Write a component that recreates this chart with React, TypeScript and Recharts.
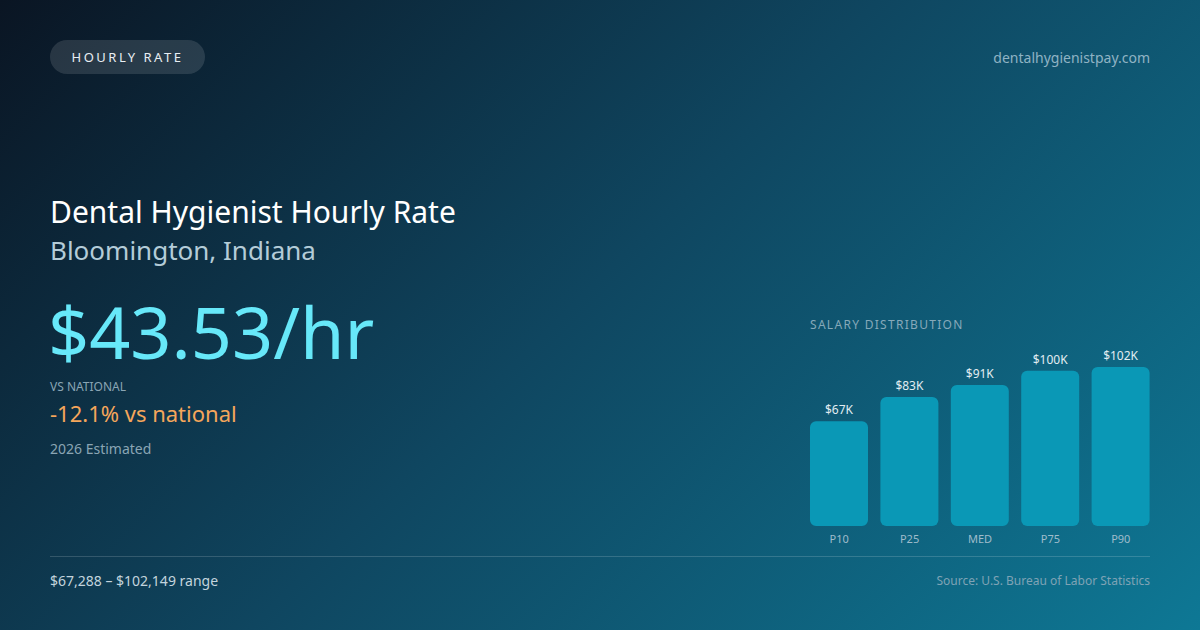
import React from 'react';
import { BarChart, Bar, XAxis, YAxis, LabelList } from 'recharts';

// salary percentiles (annual, USD)
const percentileLabels = ['P10', 'P25', 'MED', 'P75', 'P90'];
const salaryValues = [67288, 82900, 90600, 99800, 102149];

const chartData = percentileLabels.map((label, i) => ({
    label,
    salary: salaryValues[i],
}));

const formatK = (v: any) => `$${Math.round(Number(v) / 1000)}K`;

const FONT = '"Noto Sans", "Open Sans", sans-serif';

const App: React.FC = () => {
    return (
        <div
            style={{
                position: 'absolute',
                left: 0,
                top: 0,
                width: 1200,
                height: 630,
                overflow: 'hidden',
                fontFamily: FONT,
                background: 'linear-gradient(135deg, #0a1523 0%, #0f4660 48%, #0e7895 100%)',
            }}
        >
            {/* Pill */}
            <div
                style={{
                    position: 'absolute',
                    left: 50,
                    top: 40,
                    width: 155,
                    height: 34,
                    borderRadius: 17,
                    background: 'rgba(255,255,255,0.12)',
                    color: '#e8eef3',
                    fontSize: 13,
                    letterSpacing: 2.5,
                    display: 'flex',
                    alignItems: 'center',
                    justifyContent: 'center',
                }}
            >
                HOURLY RATE
            </div>

            <div style={{ position: 'absolute', right: 50, top: 48, fontSize: 14, color: '#8fb3c4' }}>
                dentalhygienistpay.com
            </div>

            {/* Headline */}
            <div style={{ position: 'absolute', left: 50, top: 192, fontSize: 30, color: '#ffffff', lineHeight: '40px' }}>
                Dental Hygienist Hourly Rate
            </div>
            <div style={{ position: 'absolute', left: 50, top: 232, fontSize: 26, color: '#b4ccd8', lineHeight: '36px' }}>
                Bloomington, Indiana
            </div>
            <div style={{ position: 'absolute', left: 48, top: 283, fontSize: 72, color: '#67e8f9', lineHeight: '96px' }}>
                $43.53/hr
            </div>
            <div style={{ position: 'absolute', left: 50, top: 379, fontSize: 12, color: '#8aa5b4', lineHeight: '16px' }}>
                VS NATIONAL
            </div>
            <div style={{ position: 'absolute', left: 50, top: 398, fontSize: 22, color: '#f5a65b', lineHeight: '30px' }}>
                -12.1% vs national
            </div>
            <div style={{ position: 'absolute', left: 50, top: 439, fontSize: 14, color: '#8aa5b4', lineHeight: '20px' }}>
                2026 Estimated
            </div>

            {/* Chart */}
            <div
                style={{
                    position: 'absolute',
                    left: 810,
                    top: 317,
                    fontSize: 12,
                    letterSpacing: 1.3,
                    color: '#86a9ba',
                    lineHeight: '16px',
                }}
            >
                SALARY DISTRIBUTION
            </div>
            <div style={{ position: 'absolute', left: 804, top: 340 }}>
                <BarChart
                    width={352}
                    height={216}
                    data={chartData}
                    margin={{ top: 27, right: 0, bottom: 0, left: 0 }}
                    barSize={58}
                >
                    <XAxis
                        dataKey="label"
                        axisLine={false}
                        tickLine={false}
                        height={30}
                        tickMargin={3}
                        tick={{ fill: '#9fbccb', fontSize: 11, fontFamily: FONT }}
                    />
                    <YAxis hide domain={[0, 'dataMax']} />
                    <Bar dataKey="salary" fill="#0a98b6" radius={[6, 6, 6, 6]} isAnimationActive={false}>
                        <LabelList
                            dataKey="salary"
                            position="top"
                            offset={7}
                            formatter={formatK}
                            style={{ fill: '#e2edf2', fontSize: 12, fontFamily: FONT }}
                        />
                    </Bar>
                </BarChart>
            </div>

            {/* Footer */}
            <div
                style={{
                    position: 'absolute',
                    left: 50,
                    top: 556,
                    width: 1100,
                    height: 1,
                    background: 'rgba(255,255,255,0.16)',
                }}
            />
            <div style={{ position: 'absolute', left: 50, top: 571, fontSize: 14, color: '#c3d4dd', lineHeight: '20px' }}>
                $67,288 – $102,149 range
            </div>
            <div style={{ position: 'absolute', right: 50, top: 573, fontSize: 12, color: '#7fa3b5', lineHeight: '16px' }}>
                Source: U.S. Bureau of Labor Statistics
            </div>
        </div>
    );
};

export default App;
